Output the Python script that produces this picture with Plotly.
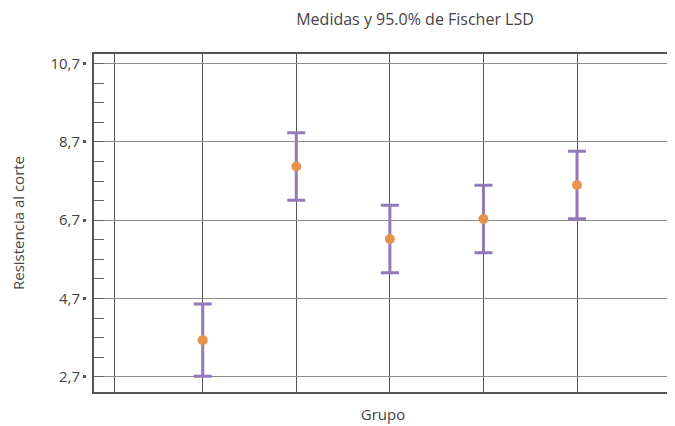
import plotly.graph_objects as go

grupos = [1, 2, 3, 4, 5]
medias = [3.64, 8.07, 6.22, 6.73, 7.60]
semi_lsd = [0.92, 0.86, 0.86, 0.86, 0.86]
y_ticks = [2.7, 4.7, 6.7, 8.7, 10.7]
y_tick_text = ["2,7", "4,7", "6,7", "8,7", "10,7"]
x_grid = [0.056, 1, 2, 3, 4, 5]

fig = go.Figure()
fig.add_trace(go.Scatter(
    x=grupos, y=medias, mode="markers",
    marker=dict(color="#E8934A", size=10, line=dict(width=0)),
    error_y=dict(type="data", array=semi_lsd, visible=True,
                 color="#9279B9", thickness=3, width=9),
    showlegend=False, hoverinfo="x+y",
))
# invisible trace for outer tick axis
fig.add_trace(go.Scatter(x=[grupos[0]], y=[medias[0]], yaxis="y2",
                         mode="markers", marker=dict(opacity=0),
                         showlegend=False, hoverinfo="skip"))

font = "Open Sans"
fig.update_layout(
    width=675, height=426,
    margin=dict(l=78, r=11, t=46, b=42, autoexpand=False),
    paper_bgcolor="white", plot_bgcolor="white",
    font=dict(family=font, color="#444", size=14),
    title=dict(text="Medidas y 95.0% de Fischer LSD", x=0.603, xanchor="center",
               y=0.974, yanchor="middle", font=dict(size=16, color="#444")),
    xaxis=dict(range=[-0.162, 6.015], domain=[8/586, 1], automargin=False,
               tickvals=x_grid, showticklabels=False, ticks="",
               showgrid=True, gridcolor="#555", gridwidth=1,
               zeroline=False, showline=True, linecolor="#555", linewidth=2,
               mirror=True,
               title=dict(text="Grupo", font=dict(size=15, color="#444"), standoff=16)),
    yaxis=dict(range=[2.317, 10.94], tickvals=y_ticks, showticklabels=False,
               automargin=False,
               ticks="", showgrid=True, gridcolor="#8a8a8a", gridwidth=1.3,
               zeroline=False, showline=True, linecolor="#555", linewidth=2,
               mirror=True,
               minor=dict(dtick=0.5, tick0=2.7, ticks="inside", ticklen=10,
                          tickcolor="#666", tickwidth=1, showgrid=False)),
    yaxis2=dict(range=[2.317, 10.94], overlaying="y", anchor="free", position=0,
                side="left", tickvals=y_ticks, ticktext=y_tick_text,
                automargin=False,
                ticks="outside", ticklen=3, tickwidth=3, tickcolor="#555",
                showgrid=False, zeroline=False, showline=False,
                tickfont=dict(size=15, color="#444"),
                title=dict(text="Resistencia al corte", font=dict(size=15, color="#444"),
                           standoff=21)),
)

fig.write_html("out.html")
